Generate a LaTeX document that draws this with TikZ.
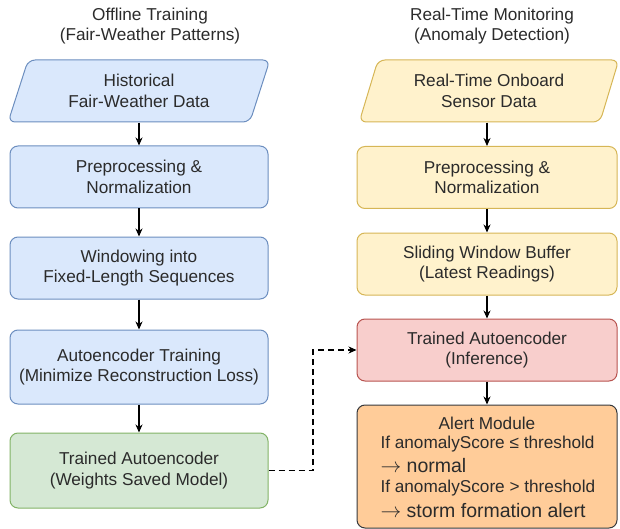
\documentclass[tikz,border=0pt]{standalone}
\usepackage{fontspec}
\setmainfont{Liberation Sans}
\usetikzlibrary{arrows.meta,shapes.geometric}
\definecolor{bfill}{HTML}{DAE8FC}\definecolor{bline}{HTML}{6C8EBF}
\definecolor{yfill}{HTML}{FFF2CC}\definecolor{yline}{HTML}{D6B656}
\definecolor{gfill}{HTML}{D5E8D4}\definecolor{gline}{HTML}{82B366}
\definecolor{rfill}{HTML}{F8CECC}\definecolor{rline}{HTML}{B85450}
\definecolor{ofill}{HTML}{FFCC99}\definecolor{oline}{HTML}{36393D}
\definecolor{txt}{HTML}{2B2B2B}
\tikzset{
  every node/.style={text=txt,font=\fontsize{17.2}{20.5}\selectfont},
  box/.style={draw,rounded corners=8pt,line width=1pt,minimum width=258pt,minimum height=62pt,align=center,inner sep=0pt},
  para/.style={draw,trapezium,trapezium left angle=69,trapezium right angle=111,trapezium stretches=true,rounded corners=7pt,line width=1pt,minimum width=262pt,minimum height=62pt,align=center,inner sep=0pt},
  title/.style={align=center},
  arr/.style={-{Stealth[length=8pt,width=7pt,inset=2.5pt]},line width=1.2pt,black},
  big/.style={font=\fontsize{19.5}{22}\selectfont}
}
\begin{document}
\begin{tikzpicture}[x=1pt,y=-1pt]
\useasboundingbox (0,0) rectangle (620,529);
% titles
\node[title] (tl) at (150,26) {Offline Training\\(Fair-Weather Patterns)};
\node[title] (tr) at (492,26) {Real-Time Monitoring\\(Anomaly Detection)};
% left column
\node[para,fill=bfill,draw=bline] (l1) at (139,91) {Historical\\Fair-Weather Data};
\node[box,fill=bfill,draw=bline] (l2) at (139,177) {Preprocessing \&\\Normalization};
\node[box,fill=bfill,draw=bline] (l3) at (139,268) {Windowing into\\Fixed-Length Sequences};
\node[box,fill=bfill,draw=bline,minimum height=74pt] (l4) at (139,367) {Autoencoder Training\\(Minimize Reconstruction Loss)};
\node[box,fill=gfill,draw=gline,minimum height=75pt] (l5) at (139,470.5) {Trained Autoencoder\\(Weights Saved Model)};
% right column
\node[para,fill=yfill,draw=yline,minimum width=260pt] (r1) at (489,91) {Real-Time Onboard\\Sensor Data};
\node[box,fill=yfill,draw=yline,minimum width=260pt] (r2) at (487,177.5) {Preprocessing \&\\Normalization};
\node[box,fill=yfill,draw=yline,minimum width=260pt] (r3) at (487,264) {Sliding Window Buffer\\(Latest Readings)};
\node[box,fill=rfill,draw=rline,minimum width=260pt] (r4) at (487,350) {Trained Autoencoder\\(Inference)};
\node[box,fill=ofill,draw=oline,minimum width=260pt,minimum height=123pt] (r5) at (487,466.5) {};
\node (a1) at (487,423) {Alert Module};
\node[anchor=west] (a2) at (377,444) {If anomalyScore ≤ threshold};
\node[anchor=west,big] (a3) at (377,466) {$\rightarrow$ normal};
\node[anchor=west] (a4) at (377,488) {If anomalyScore > threshold};
\node[anchor=west,big] (a5) at (377,511) {$\rightarrow$ storm formation alert};
% arrows
\draw[arr] (l1.south -| l2.north) -- (l2.north);
\draw[arr] (l2) -- (l3);
\draw[arr] (l3) -- (l4);
\draw[arr] (l4) -- (l5);
\draw[arr] (r2.north |- r1.south) -- (r2.north);
\draw[arr] (r2) -- (r3);
\draw[arr] (r3) -- (r4);
\draw[arr] (r4) -- (r5);
\coordinate (m1) at (313,470.5);
\coordinate (m2) at (313,350);
\draw[arr,dash pattern=on 6pt off 4pt] (l5.east) -- (m1) -- (m2) -- (r4.west);
\end{tikzpicture}
\end{document}
